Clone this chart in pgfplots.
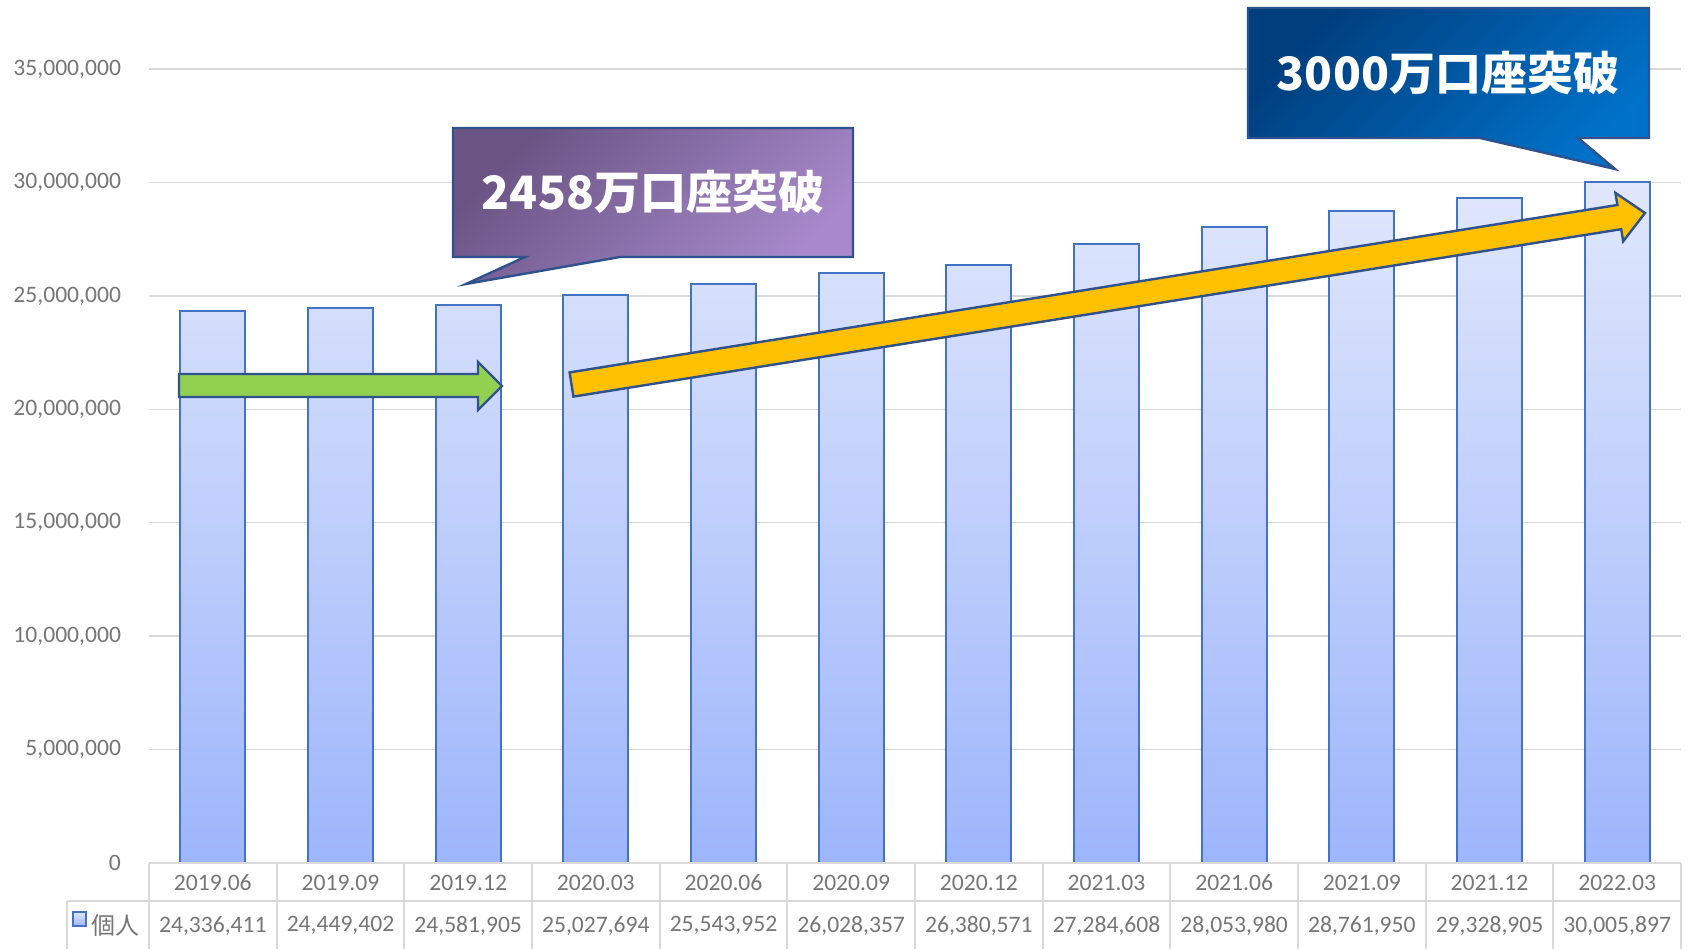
\documentclass[border=0pt]{standalone}
\usepackage{fontspec}
\setmainfont{Carlito}
\newfontfamily\cjk{Noto Sans CJK JP}
\usepackage{pgfplots}
\pgfplotsset{compat=1.18}
\usepackage{pgfplotstable}

\definecolor{barTop}{RGB}{224,231,252}
\definecolor{barBot}{RGB}{157,181,251}
\definecolor{barEdge}{RGB}{68,114,196}
\definecolor{gridc}{RGB}{217,217,217}
\definecolor{txt}{RGB}{118,118,118}
\definecolor{edge}{RGB}{47,82,143}
\definecolor{purD}{RGB}{106,84,132}
\definecolor{purL}{RGB}{168,138,204}
\definecolor{bluD}{RGB}{0,62,125}
\definecolor{bluL}{RGB}{0,113,200}
\definecolor{grn}{RGB}{146,208,80}
\definecolor{yel}{RGB}{255,192,0}

\pgfplotstableread{
x cat val lab
0 2019.06 24336411 24,336,411
1 2019.09 24449402 24,449,402
2 2019.12 24581905 24,581,905
3 2020.03 25027694 25,027,694
4 2020.06 25543952 25,543,952
5 2020.09 26028357 26,028,357
6 2020.12 26380571 26,380,571
7 2021.03 27284608 27,284,608
8 2021.06 28053980 28,053,980
9 2021.09 28761950 28,761,950
10 2021.12 29328905 29,328,905
11 2022.03 30005897 30,005,897
}\data

\begin{document}
\begin{tikzpicture}
\useasboundingbox (-74.5pt,-43pt) rectangle (771.5pt,431.5pt);
\begin{axis}[
  at={(0pt,0pt)}, anchor=south west, scale only axis,
  width=766pt, height=397pt,
  xmin=-0.5, xmax=11.5, ymin=0, ymax=35000000,
  axis line style={draw=none},
  major tick length=0pt,
  ytick={0,5000000,10000000,15000000,20000000,25000000,30000000,35000000},
  ymajorgrids, grid style={gridc, line width=0.75pt},
  xtick=data, xticklabels from table={\data}{cat},
  scaled y ticks=false,
  yticklabel style={/pgf/number format/fixed, /pgf/number format/1000 sep={,}, /pgf/number format/assume math mode=true, xshift=-10.5pt},
  every tick label/.append style={font=\fontsize{11.8pt}{14pt}\selectfont, text=txt},
  xticklabel style={anchor=center, yshift=-10pt},
  clip=false,
]
\addplot[ybar, bar width=32.5pt, draw=barEdge, line width=1pt, top color=barTop, bottom color=barBot]
  table[x=x, y=val]{\data};
\addplot[draw=none, mark=none, nodes near coords, point meta=explicit symbolic,
  every node near coord/.append style={anchor=center, yshift=-31.3pt, font=\fontsize{11.8pt}{14pt}\selectfont, text=txt}]
  table[x=x, y expr=0, meta=lab]{\data};
\pgfplotsinvokeforeach{0,...,12}{
  \draw[gridc, line width=1pt] (axis cs:#1-0.5,0) -- ++(0pt,-43pt);
}
\end{axis}
\begin{scope}[x=0.5pt, y=-0.5pt, shift={(-74.5pt,431.5pt)}]
  % table lines
  \draw[gridc, line width=1pt] (149,863) -- (1681,863);
  \draw[gridc, line width=1pt] (67,901) -- (1681,901);
  \draw[gridc, line width=1pt] (67,901) -- (67,949);
  % legend key
  \draw[barEdge, line width=0.9pt, top color=barTop, bottom color=barBot] (73,912) rectangle (86,926);
  \node[text=txt, font=\cjk\fontsize{12pt}{14pt}\selectfont, anchor=west, inner sep=0pt] at (91,925) {個人};
  % green arrow
  \draw[edge, line width=1.2pt, fill=grn, line join=miter]
    (179,374) -- (478,374) -- (478,362) -- (502,386) -- (478,410) -- (478,397) -- (179,397) -- cycle;
  % yellow arrow
  \draw[edge, line width=1.2pt, fill=yel, line join=miter]
    (569.6,372.4) -- (1617.4,205.0) -- (1615.4,192.9) -- (1645,213) -- (1623.2,241.3) -- (1621.2,229.2) -- (573.4,396.6) -- cycle;
  % purple callout
  \draw[edge, line width=1.2pt, top color=purD, bottom color=purL, shading angle=45]
    (453,128) -- (853,128) -- (853,257) -- (620,257) -- (466,284) -- (525,257) -- (453,257) -- cycle;
  \node[text=white, font=\cjk\bfseries\fontsize{23pt}{28pt}\selectfont] at (653,192) {2458万口座突破};
  % blue callout
  \draw[edge, line width=1.2pt, top color=bluD, bottom color=bluL, shading angle=45]
    (1248,8) -- (1649,8) -- (1649,138) -- (1578,138) -- (1615,169) -- (1480,138) -- (1248,138) -- cycle;
  \node[text=white, font=\cjk\bfseries\fontsize{23pt}{28pt}\selectfont] at (1448,73) {3000万口座突破};
\end{scope}
\end{tikzpicture}
\end{document}
